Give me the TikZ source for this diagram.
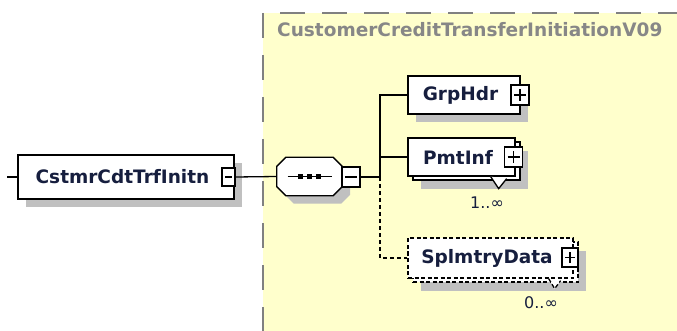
\documentclass[tikz,border=0pt]{standalone}
\usepackage{fontspec}
\setmainfont{DejaVu Sans}
\usepackage{xcolor}
\usetikzlibrary{shadows}

\definecolor{areayellow}{RGB}{255,255,204}
\definecolor{areaborder}{RGB}{128,128,128}
\definecolor{titlegray}{RGB}{135,135,135}
\definecolor{nametext}{RGB}{22,30,62}
\definecolor{shadowgray}{RGB}{192,192,192}

\tikzset{
  elembox/.style={draw, line width=1.3pt, fill=white, inner sep=0pt,
    text=nametext, font=\bfseries\fontsize{18.5}{18.5}\selectfont,
    execute at end node={\hspace{7pt}}},
  single/.style={elembox, drop shadow={shadow xshift=8pt, shadow yshift=-8pt, fill=shadowgray, opacity=1}},
  multi/.style={elembox, drop shadow={shadow xshift=13pt, shadow yshift=-13pt, fill=shadowgray, opacity=1},
    copy shadow={shadow xshift=5pt, shadow yshift=-4pt, draw=black, fill=white, line width=1.3pt, #1}},
  optional/.style={dash pattern=on 4pt off 2.5pt},
  minusbox/.style={draw, fill=white, line width=1.3pt, inner sep=0pt, minimum width=18pt, minimum height=20pt,
    path picture={\draw[line width=1.3pt] ([xshift=3pt]path picture bounding box.west) -- ([xshift=-3pt]path picture bounding box.east);}},
  plusbox/.style={draw, fill=white, line width=1.3pt, inner sep=0pt, minimum width=18pt, minimum height=20pt,
    path picture={\draw[line width=1.3pt] ([xshift=3pt]path picture bounding box.west) -- ([xshift=-3pt]path picture bounding box.east);
      \draw[line width=1.3pt] ([yshift=4pt]path picture bounding box.south) -- ([yshift=-4pt]path picture bounding box.north);}},
  seqarea/.style={inner sep=0pt, minimum width=65pt, minimum height=38pt},
  seqshape/.style={draw, line width=1.3pt, fill=white,
    drop shadow={shadow xshift=8pt, shadow yshift=-8pt, fill=shadowgray, opacity=1}},
  connector/.style={line width=1.3pt},
  marker/.style={draw, line width=1.3pt, fill=white},
  multiplicity/.style={text=nametext, font=\fontsize{16}{16}\selectfont, inner sep=0pt}
}

\begin{document}
\begin{tikzpicture}[x=1pt, y=-1pt]
\useasboundingbox (0,0) rectangle (677,331);

% Complex type area
\fill[areayellow] (263,13) rectangle (677,331);
\draw[areaborder, line width=2pt, dash pattern=on 25pt off 17pt] (263,13) -- (263,331);
\draw[areaborder, line width=2pt, dash pattern=on 25pt off 17pt, dash phase=25pt] (263,13) -- (677,13);
\node[text=titlegray, font=\bfseries\fontsize{18.5}{18.5}\selectfont, inner sep=0pt, anchor=base west] (typename) at (277,37) {CustomerCreditTransferInitiationV09};

% Root element
\node[single, minimum width=216pt, minimum height=44pt] (root) at (126,177) {CstmrCdtTrfInitn};
\node[minusbox, minimum width=13pt, minimum height=18pt] (rootminus) at (228.5,177) {};
\coordinate (rootin) at (7,177);

% Sequence
\node[seqarea] (seq) at (309.5,176.5) {};
\draw[seqshape] ([xshift=9pt]seq.north west) -- ([xshift=-9pt]seq.north east)
  -- ([yshift=-9pt]seq.north east) -- ([yshift=9pt]seq.south east)
  -- ([xshift=-9pt]seq.south east) -- ([xshift=9pt]seq.south west)
  -- ([yshift=9pt]seq.south west) -- ([yshift=-9pt]seq.north west) -- cycle;
\draw[connector] ([xshift=-22pt]seq.center) -- ([xshift=22pt]seq.center);
\foreach \dx in {-9,0,9}
  \fill ([xshift=\dx pt]seq.center) +(-2.5,-2.5) rectangle +(2.5,2.5);
\node[minusbox] (seqminus) at (351,177) {};
\coordinate (branch) at (380,177);

% GrpHdr
\node[single, minimum width=112pt, minimum height=38pt] (grphdr) at (464,95) {GrpHdr};
\node[plusbox] (grphdrplus) at (520,95) {};

% PmtInf
\node[multi, minimum width=107pt, minimum height=38pt] (pmtinf) at (461.5,157) {PmtInf};
\node[plusbox] (pmtinfplus) at (513.5,157) {};
\filldraw[marker] ([xshift=-25pt]pmtinf.south east) -- ++(8,12) -- ++(8,-10);
\node[multiplicity] (pmtinfmult) at (487,203) {1..∞};

% SplmtryData
\node[multi=optional, optional, minimum width=165pt, minimum height=40pt] (splmtry) at (490.5,258) {SplmtryData};
\node[plusbox, minimum width=16pt, minimum height=19pt] (splmtryplus) at (570,257.5) {};
\filldraw[marker, optional] ([xshift=-25pt]splmtry.south east) -- ++(6,10) -- ++(6,-8);
\node[multiplicity] (splmtrymult) at (541,303) {0..∞};

% Connectors
\draw[connector] (rootin) -- (root.west);
\draw[connector] (rootminus.east) -- (seq.west);
\draw[connector] (seqminus.east) -- (branch);
\draw[connector] (branch) |- (grphdr.west);
\draw[connector] (branch) |- (pmtinf.west);
\draw[connector, dash pattern=on 4pt off 3pt] (branch) |- (splmtry.west);

\end{tikzpicture}
\end{document}
